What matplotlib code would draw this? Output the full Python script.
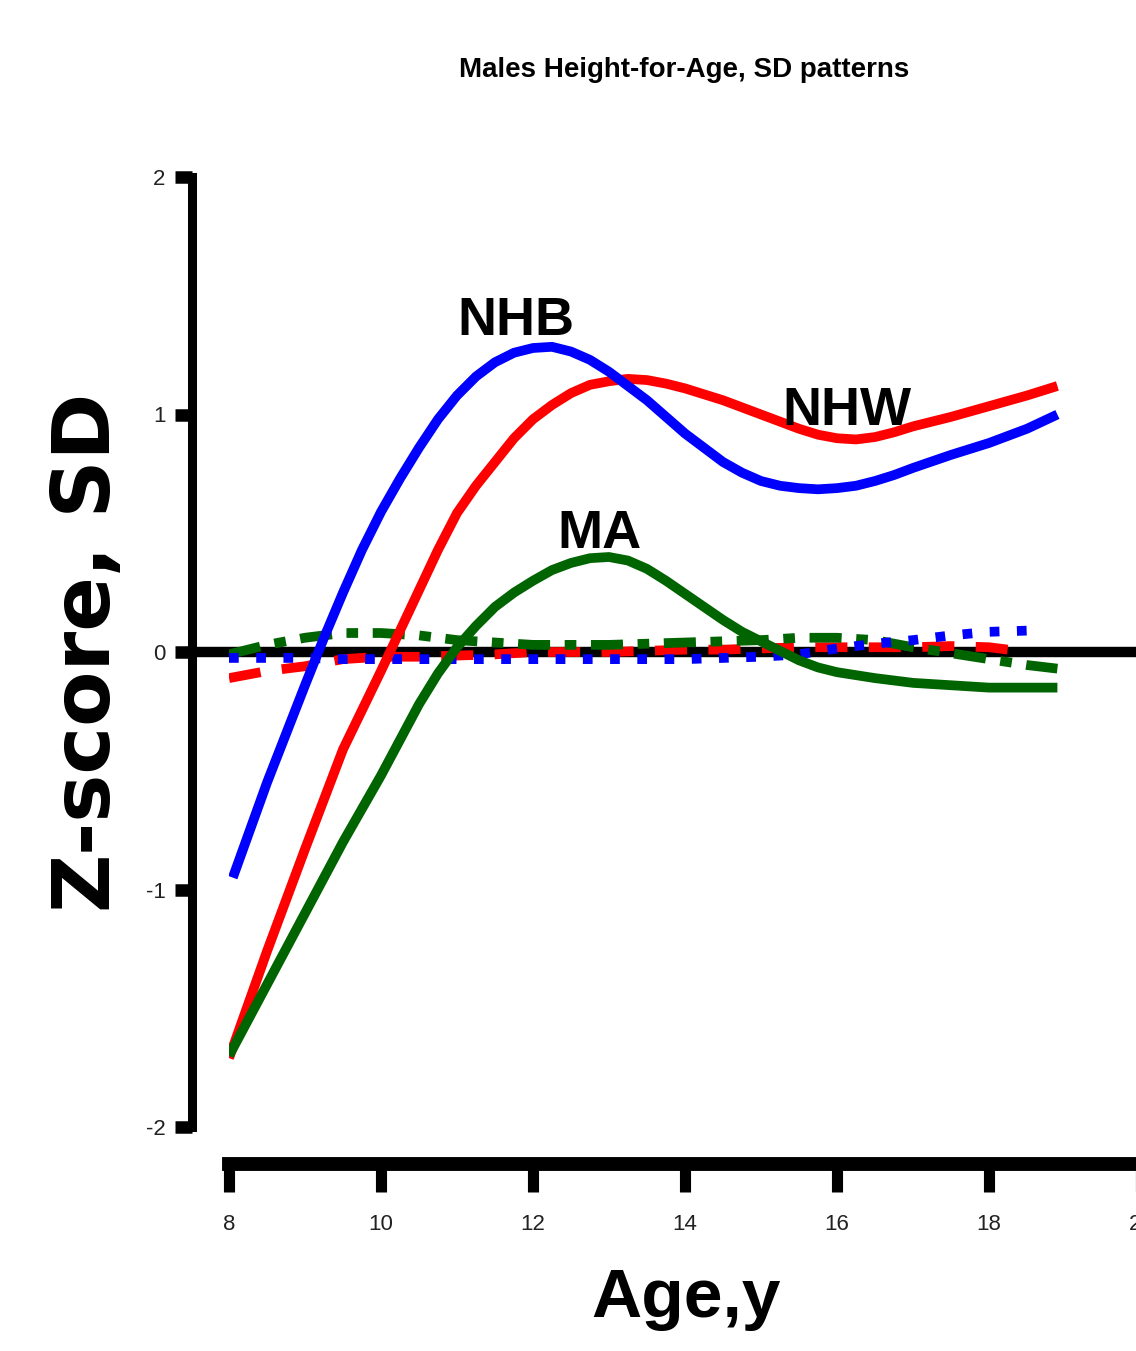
import matplotlib
matplotlib.use("Agg")
import matplotlib.pyplot as plt
from matplotlib import font_manager

# pick a condensed face for the small labels if we have one
installed = {f.name for f in font_manager.fontManager.ttflist}
has_narrow = 'Liberation Sans Narrow' in installed
narrow = 'Liberation Sans Narrow' if has_narrow else 'Liberation Sans'

# values
age_nhb = [8.05, 8.5, 9.0, 9.25, 9.5, 9.75, 10.0, 10.25, 10.5, 10.75, 11.0, 11.25,
           11.5, 11.75, 12.0, 12.25, 12.5, 12.75, 13.0, 13.25, 13.5, 13.75, 14.0,
           14.25, 14.5, 14.75, 15.0, 15.25, 15.5, 15.75, 16.0, 16.25, 16.5, 16.75,
           17.0, 17.5, 18.0, 18.5, 18.9]
nhb = [-0.95, -0.55, -0.14, 0.06, 0.25, 0.43, 0.59, 0.73, 0.86, 0.98, 1.08, 1.16,
       1.22, 1.26, 1.28, 1.285, 1.265, 1.23, 1.18, 1.12, 1.06, 0.99, 0.92,
       0.86, 0.80, 0.755, 0.72, 0.70, 0.69, 0.685, 0.69, 0.70, 0.72, 0.745,
       0.775, 0.83, 0.88, 0.94, 1.00]

age_nhw = [8.0, 8.5, 9.0, 9.5, 10.0, 10.25, 10.5, 10.75, 11.0, 11.25, 11.5, 11.75,
           12.0, 12.25, 12.5, 12.75, 13.0, 13.25, 13.5, 13.75, 14.0, 14.5, 15.0,
           15.5, 15.75, 16.0, 16.25, 16.5, 16.75, 17.0, 17.5, 18.0, 18.5, 18.9]
nhw = [-1.71, -1.26, -0.83, -0.41, -0.08, 0.09, 0.26, 0.43, 0.585, 0.70, 0.80, 0.90,
       0.98, 1.04, 1.09, 1.125, 1.14, 1.15, 1.145, 1.13, 1.11, 1.06, 1.00,
       0.94, 0.915, 0.90, 0.895, 0.905, 0.925, 0.95, 0.99, 1.035, 1.08, 1.12]

age_ma = [8.0, 8.5, 9.0, 9.5, 10.0, 10.25, 10.5, 10.75, 11.0, 11.25, 11.5, 11.75,
          12.0, 12.25, 12.5, 12.75, 13.0, 13.25, 13.5, 13.75, 14.0, 14.25, 14.5,
          14.75, 15.0, 15.25, 15.5, 15.75, 16.0, 16.5, 17.0, 17.5, 18.0, 18.5, 18.9]
ma = [-1.70, -1.40, -1.10, -0.80, -0.52, -0.37, -0.22, -0.09, 0.02, 0.11, 0.19, 0.25,
      0.30, 0.345, 0.375, 0.395, 0.40, 0.385, 0.35, 0.30, 0.245, 0.19, 0.135,
      0.085, 0.045, 0.005, -0.035, -0.065, -0.085, -0.11, -0.13, -0.14, -0.15, -0.15, -0.15]

# SD pattern curves (near zero)
age_nhw_sd = [8.0, 8.5, 9.0, 9.5, 10.0, 10.5, 11.0, 11.5, 12.0, 12.5, 13.0, 13.5,
              14.0, 14.5, 15.0, 15.5, 16.0, 16.5, 17.0, 17.5, 18.0, 18.5]
nhw_sd = [-0.11, -0.08, -0.06, -0.03, -0.02, -0.02, -0.015, -0.01, 0.0, 0.0, 0.0, 0.005,
          0.01, 0.01, 0.015, 0.02, 0.02, 0.02, 0.02, 0.025, 0.02, 0.0]
age_ma_sd = age_nhw_sd + [18.9]
ma_sd = [-0.01, 0.03, 0.06, 0.08, 0.08, 0.07, 0.05, 0.04, 0.03, 0.03, 0.03, 0.035,
         0.04, 0.045, 0.05, 0.06, 0.06, 0.05, 0.02, -0.005, -0.03, -0.055, -0.07]
age_nhb_sd = age_nhw_sd + [18.7]
nhb_sd = [-0.025, -0.025, -0.025, -0.03, -0.03, -0.03, -0.03, -0.03, -0.03, -0.03, -0.03, -0.03,
          -0.03, -0.025, -0.02, -0.01, 0.015, 0.035, 0.05, 0.07, 0.085, 0.09, 0.09]

xticks = [8, 10, 12, 14, 16, 18, 20]
yticks = [-2, -1, 0, 1, 2]
ytick_labels = ['-2', '-1', '0', '1', '2']

green = '#006400'

fig = plt.figure(figsize=(11.36, 13.51), dpi=100)
ax = fig.add_axes([229 / 1136, (1351 - 1127) / 1351, 912 / 1136, 950 / 1351])
ax.set_xlim(8, 20)
ax.set_ylim(-2, 2)

# zero reference line, runs from the y spine to the right edge
ax.axhline(0, xmin=-37 / 912, xmax=1, color='black', lw=7.5, clip_on=False, zorder=1)

ax.plot(age_nhw_sd, nhw_sd, color='red', lw=7, linestyle=(0, (3.3, 2.2)), zorder=2)
ax.plot(age_ma_sd, ma_sd, color=green, lw=7, linestyle=(0, (3.3, 1.5, 1.2, 1.5)), zorder=2)
ax.plot(age_nhb_sd, nhb_sd, color='blue', lw=7, linestyle=(0, (1.0, 1.8)), zorder=2)

solid = dict(lw=7, solid_joinstyle='round', solid_capstyle='butt')
ax.plot(age_nhw, nhw, color='red', zorder=3, **solid)
ax.plot(age_ma, ma, color=green, zorder=3, **solid)
ax.plot(age_nhb, nhb, color='blue', zorder=4, **solid)

ann_font = dict(family='Liberation Sans', weight='bold', fontsize=39,
                ha='center', va='baseline')
ax.text(11.776, 1.336, 'NHB', **ann_font)
ax.text(16.13, 0.956, 'NHW', **ann_font)
ax.text(12.87, 0.438, 'MA', **ann_font)

# prism-like detached axes
for side in ['top', 'right']:
    ax.spines[side].set_visible(False)
ax.spines['left'].set_position(('outward', 37 * 0.72))
ax.spines['bottom'].set_position(('outward', 37 * 0.72))
ax.spines['left'].set_bounds(-2, 2)
ax.spines['bottom'].set_bounds(8, 20)
ax.spines['left'].set_linewidth(6.5)
ax.spines['bottom'].set_linewidth(10)
ax.spines['left'].set_capstyle('projecting')
ax.spines['bottom'].set_capstyle('projecting')

tick_size = 21 if has_narrow else 16
ax.set_xticks(xticks)
ax.set_xticklabels([str(t) for t in xticks])
ax.set_yticks(yticks)
ax.set_yticklabels(ytick_labels)
ax.tick_params(axis='y', direction='out', length=12, width=9, pad=7, labelsize=tick_size)
ax.tick_params(axis='x', direction='out', length=20, width=8, pad=16, labelsize=tick_size)
for lab in ax.get_xticklabels() + ax.get_yticklabels():
    lab.set_family(narrow)
    lab.set_color('#222222')

fig.text(684 / 1136, 1 - 77 / 1351, 'Males Height-for-Age, SD patterns',
         family=narrow, weight='bold', fontsize=25 if has_narrow else 20,
         ha='center', va='baseline')
fig.text(686 / 1136, 1 - 1317 / 1351, 'Age,y',
         family=narrow, weight='bold', fontsize=62 if has_narrow else 50,
         ha='center', va='baseline')
fig.text(88 / 1136, 1 - 652 / 1351, 'Z-score, SD',
         family='DejaVu Sans', weight='bold', fontsize=58, rotation=90,
         ha='center', va='center')

fig.savefig('out.png', dpi=100)
